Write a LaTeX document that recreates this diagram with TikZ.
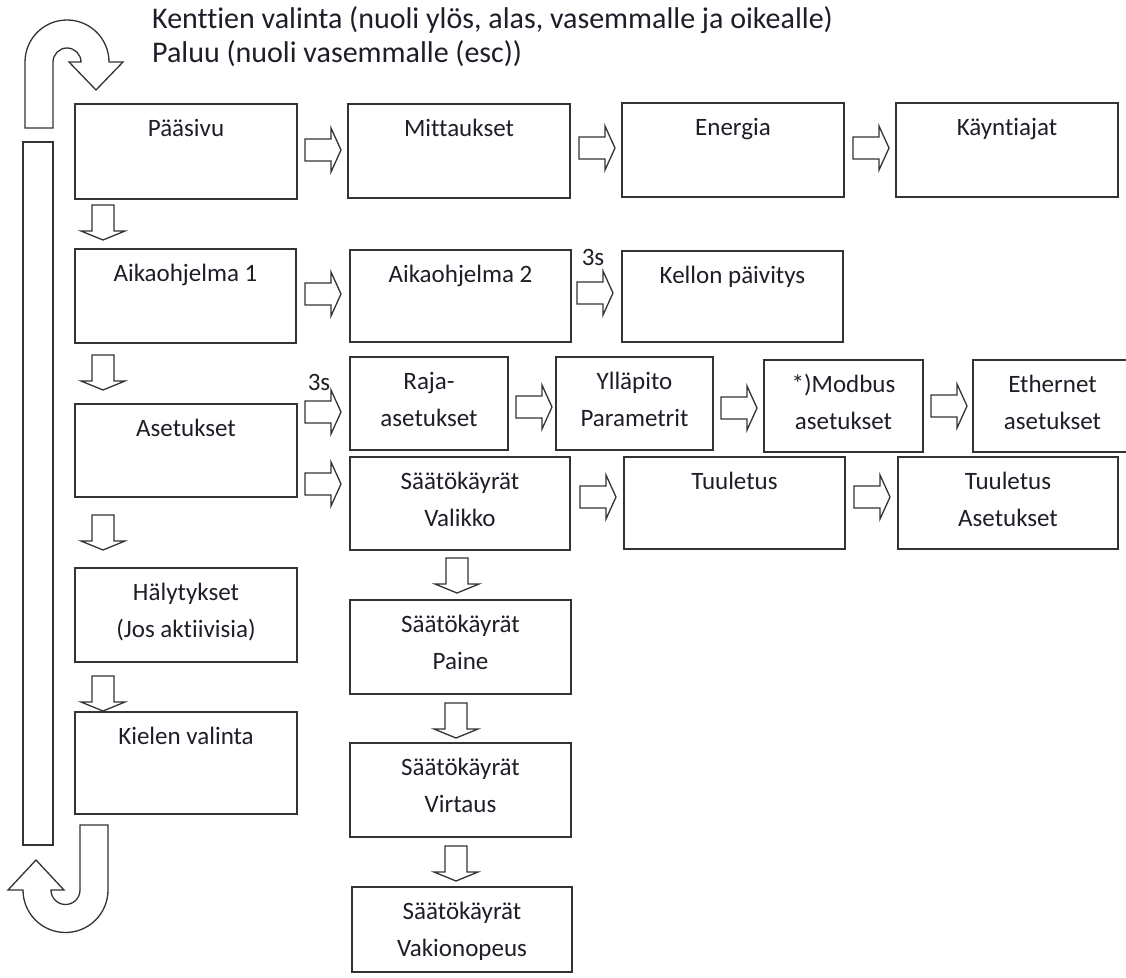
\documentclass[tikz,border=0pt]{standalone}
\usepackage{fontspec}
\setmainfont{Carlito}[Ligatures=CommonOff]
\usetikzlibrary{fit}
\definecolor{lc}{HTML}{333333}
\definecolor{tc}{HTML}{1E1E28}
\tikzset{
  box/.style={draw=lc, line width=1.4pt, inner sep=0pt},
  txt/.style={font=\fontsize{25}{30}\selectfont, text=tc, anchor=base, inner sep=0pt},
  ttl/.style={font=\fontsize{30}{35}\selectfont, text=tc, anchor=base west, inner sep=0pt},
  blk/.style={draw=lc, line width=1.3pt, fill=white, line join=miter},
  rarr/.pic={\draw[blk] (0,-11) -- (26,-11) -- (26,-22) -- (36,0) -- (26,22) -- (26,11) -- (0,11) -- cycle;},
  darr/.pic={\draw[blk] (-11,0) -- (11,0) -- (11,26) -- (22,26) -- (0,35) -- (-22,26) -- (-11,26) -- cycle;},
}
\newcommand\onebox[6]{\node[box, fit={(#2,#3) (#4,#5)}] (#1) {};
  \node[txt] (#1-t) at ([yshift=-33pt]#1.north) {#6};}
\newcommand\twobox[7]{\node[box, fit={(#2,#3) (#4,#5)}] (#1) {};
  \node[txt] (#1-t) at ([yshift=-33pt]#1.north) {#6};
  \node[txt] (#1-u) at ([yshift=-70pt]#1.north) {#7};}
\begin{document}
\begin{tikzpicture}[x=1pt,y=-1pt]
\useasboundingbox (0,0) rectangle (1126,977);
\clip (0,0) rectangle (1126,977);
\fill[white] (0,0) rectangle (1126,977);
% title texts
\node[ttl] (t1) at (152,28) {Kenttien valinta (nuoli ylös, alas, vasemmalle ja oikealle)};
\node[ttl] (t2) at (152,62) {Paluu (nuoli vasemmalle (esc))};
% boxes
\onebox{pa}{75}{104}{297}{199}{Pääsivu}
\onebox{mi}{348}{104}{570}{198}{Mittaukset}
\onebox{en}{622}{103}{844}{197}{Energia}
\onebox{ka}{896}{103}{1118}{197}{Käyntiajat}
\onebox{a1}{75}{249}{296}{343}{Aikaohjelma 1}
\onebox{a2}{350}{250}{571}{342}{Aikaohjelma 2}
\onebox{ke}{622}{251}{843}{342}{Kellon päivitys}
\onebox{as}{75}{404}{297}{497}{Asetukset}
\twobox{ra}{350}{357}{508}{450}{Raja-}{asetukset}
\twobox{yl}{556}{357}{713}{450}{Ylläpito}{Parametrit}
\twobox{mo}{764}{360}{923}{452}{*)Modbus}{asetukset}
\twobox{et}{973}{360}{1132}{452}{Ethernet}{asetukset}
\twobox{va}{350}{457}{570}{550}{Säätökäyrät}{Valikko}
\onebox{tu}{624}{457}{845}{549}{Tuuletus}
\twobox{ta}{898}{457}{1118}{549}{Tuuletus}{Asetukset}
\twobox{ha}{75}{568}{297}{662}{Hälytykset}{(Jos aktiivisia)}
\onebox{ki}{75}{712}{297}{814}{Kielen valinta}
\twobox{pn}{350}{600}{571}{694}{Säätökäyrät}{Paine}
\twobox{vi}{350}{743}{571}{837}{Säätökäyrät}{Virtaus}
\twobox{vk}{352}{887}{572}{972}{Säätökäyrät}{Vakionopeus}
% right block arrows
\pic (r1) at (305,150) {rarr};
\pic (r2) at (579,148) {rarr};
\pic (r3) at (853,148) {rarr};
\pic (r4) at (305,294) {rarr};
\pic (r5) at (577,293) {rarr};
\pic (r6) at (305,412) {rarr};
\pic (r7) at (305,484) {rarr};
\pic (r8) at (516,407) {rarr};
\pic (r9) at (721,408) {rarr};
\pic (r10) at (931,406) {rarr};
\pic (r11) at (580,497) {rarr};
\pic (r12) at (854,497) {rarr};
% labels 3s
\node[txt] (s1) at (593,265) {3s};
\node[txt] (s2) at (319,390) {3s};
% down block arrows
\pic (d1) at (103,205) {darr};
\pic (d2) at (103,355) {darr};
\pic (d3) at (103,515) {darr};
\pic (d4) at (103,676) {darr};
\pic (d5) at (457,558) {darr};
\pic (d6) at (456,703) {darr};
\pic (d7) at (456,846) {darr};
% left bar
\draw[blk] (23,142) rectangle (53,845);
% top U-turn arrow
\draw[blk] (25,128) -- (25,62) arc[start angle=180, end angle=0, radius=42pt]
  -- (123,62) -- (96,90) -- (69,62) -- (81,62)
  arc[start angle=0, end angle=180, radius=14pt] -- (53,128) -- cycle;
% bottom J arrow
\draw[blk] (80,825) -- (108,825) -- (108,890) arc[start angle=0, end angle=-180, radius=42.5pt]
  -- (8,890) -- (36,860) -- (64,890) -- (51,890)
  arc[start angle=180, end angle=360, radius=14.5pt] -- cycle;
\end{tikzpicture}
\end{document}
